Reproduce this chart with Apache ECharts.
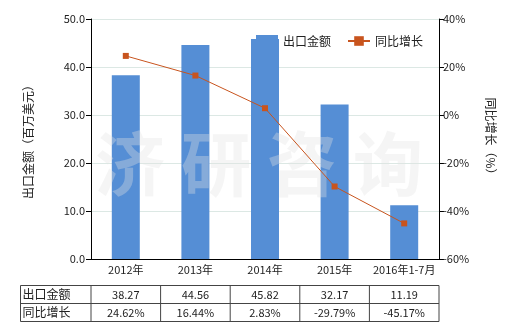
<!DOCTYPE html>
<html><head><meta charset="utf-8">
<script src="https://cdn.jsdelivr.net/npm/echarts@6/dist/echarts.min.js"></script>
<style>html,body{margin:0;padding:0;background:#fff}#c{width:520px;height:330px}</style>
</head><body><div id="c"></div>
<script>
const categories = ['2012年','2013年','2014年','2015年','2016年1-7月'];
const exportValues = [38.27, 44.56, 45.82, 32.17, 11.19];
const growthValues = [24.62, 16.44, 2.83, -29.79, -45.17];
const exportLabels = ['38.27','44.56','45.82','32.17','11.19'];
const growthLabels = ['24.62%','16.44%','2.83%','-29.79%','-45.17%'];
const rowNames = ['出口金额','同比增长'];
const watermarkChars = ['济','研','咨','询'];

const FONT = '"Noto Sans CJK SC", "Microsoft YaHei", sans-serif';
const chart = echarts.init(document.getElementById('c'), null, {renderer:'canvas'});
const option = {
  animation:false,
  textStyle:{fontFamily:FONT},
  grid:{left:91,right:81,top:19,bottom:71},
  legend:{
    left:251, top:30, itemWidth:22, itemHeight:12, itemGap:16,
    textStyle:{fontSize:12,color:'#222',fontFamily:FONT},
    data:[{name:'出口金额',icon:'rect'},{name:'同比增长'}]
  },
  xAxis:{
    type:'category', data:categories,
    axisLine:{lineStyle:{color:'#000'}},
    axisTick:{alignWithLabel:true,length:4,lineStyle:{color:'#000'}},
    axisLabel:{color:'#222',fontSize:11,margin:5,fontFamily:FONT,interval:0}
  },
  yAxis:[{
    type:'value', min:0, max:50, interval:10,
    name:'出口金额（百万美元）', nameLocation:'middle', nameGap:57,
    nameTextStyle:{fontSize:12,color:'#222',fontFamily:FONT},
    axisLine:{show:true,lineStyle:{color:'#000'}},
    axisTick:{show:true,length:5,lineStyle:{color:'#000'}},
    axisLabel:{color:'#222',fontSize:11,margin:6,formatter:v=>v.toFixed(1)},
    splitLine:{lineStyle:{color:'#dce8e4'}}
  },{
    type:'value', min:-60, max:40, interval:20,
    name:'同比增长（%）', nameLocation:'middle', nameGap:46, nameRotate:-90,
    nameTextStyle:{fontSize:12,color:'#222',fontFamily:FONT},
    axisLine:{show:true,lineStyle:{color:'#000'}},
    axisTick:{show:true,length:5,lineStyle:{color:'#000'}},
    axisLabel:{color:'#222',fontSize:11,margin:4,formatter:v=>v+'%'},
    splitLine:{show:false}
  }],
  series:[{
    name:'出口金额', type:'bar', data:exportValues, barWidth:28,
    itemStyle:{color:'#558ed5'}, z:2
  },{
    name:'同比增长', type:'line', yAxisIndex:1, data:growthValues,
    symbol:'rect', symbolSize:6, z:10,
    lineStyle:{color:'#c8541e',width:1},
    itemStyle:{color:'#c8541e'}
  }]
};
chart.setOption(option);

function buildGraphics(){
  const g = [];
  // watermark
  watermarkChars.forEach((ch,i)=>{
    g.push({type:'text', x:130+i*86, y:164, z:5, silent:true,
      style:{text:ch, font:'bold 70px '+FONT, fill:'rgba(225,225,225,0.35)', textAlign:'center', textVerticalAlign:'middle'}});
  });
  const n = categories.length;
  const c0 = chart.convertToPixel({xAxisIndex:0}, 0);
  const c1 = chart.convertToPixel({xAxisIndex:0}, 1);
  const band = c1 - c0;
  const tableLeft = 20.5;
  const firstColRight = c0 - band/2;
  const tableRight = c0 + band*(n-0.5);
  const top = 285.5, rowH = 18;
  const lineStyle = {stroke:'#444', lineWidth:1};
  for(let r=0;r<=2;r++){
    g.push({type:'line', shape:{x1:tableLeft,y1:top+r*rowH,x2:tableRight,y2:top+r*rowH}, style:lineStyle});
  }
  const xs=[tableLeft, firstColRight];
  for(let i=1;i<=n;i++) xs.push(firstColRight+band*i);
  xs.forEach(x=>g.push({type:'line', shape:{x1:x,y1:top,x2:x,y2:top+2*rowH}, style:lineStyle}));
  const rows=[exportLabels, growthLabels];
  rows.forEach((row,r)=>{
    const cy = top + r*rowH + rowH/2;
    g.push({type:'text', x:tableLeft+2, y:cy, style:{text:rowNames[r], font:'12px '+FONT, fill:'#222', textAlign:'left', textVerticalAlign:'middle'}});
    row.forEach((t,i)=>{
      const cx = chart.convertToPixel({xAxisIndex:0}, i);
      g.push({type:'text', x:cx, y:cy, style:{text:t, font:'11px '+FONT, fill:'#222', textAlign:'center', textVerticalAlign:'middle'}});
    });
  });
  chart.setOption({graphic:g});
}
buildGraphics();
</script></body></html>
